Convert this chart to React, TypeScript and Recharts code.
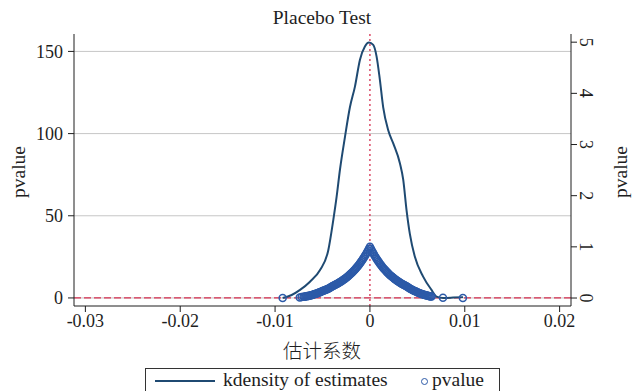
import React from 'react';
import {
  ComposedChart,
  Line,
  Scatter,
  XAxis,
  YAxis,
  ReferenceLine,
} from 'recharts';

// kernel density of the placebo estimates
const densityX = [
  -0.0092, -0.00825, -0.00737, -0.00632, -0.00526, -0.00439, -0.00386, -0.00351,
  -0.00316, -0.00263, -0.00211, -0.00158, -0.00105, -0.00053, -0.0001, 0.00035,
  0.0007, 0.00105, 0.0014, 0.00193, 0.00246, 0.00316, 0.00351, 0.00386, 0.00421,
  0.00474, 0.00561, 0.00649, 0.00702, 0.00772, 0.00877, 0.00982,
];
const densityY = [
  0, 1.8, 4.9, 9.9, 17, 29, 47.5, 61.6, 78, 98, 116, 128.6, 145, 153, 155.4, 154,
  147, 132.7, 116, 102, 94, 82, 72, 53.5, 39, 25, 13, 4.9, 0.8, 0, 0.2, 0.5,
];

// p-value of each placebo estimate: [estimate, pvalue]
const pvalueLeft: [number, number][] = [
  [-0.0092, 0], [-0.0074, 0.012], [-0.0072, 0.018], [-0.007, 0.024], [-0.0069, 0.027],
  [-0.0068, 0.03], [-0.0067, 0.033], [-0.0066, 0.037], [-0.0065, 0.041], [-0.0064, 0.045],
  [-0.0063, 0.05], [-0.0062, 0.055], [-0.0061, 0.06], [-0.006, 0.066], [-0.0059, 0.072],
  [-0.0058, 0.078], [-0.0057, 0.084], [-0.0056, 0.09], [-0.0055, 0.097], [-0.0054, 0.105],
  [-0.0053, 0.112], [-0.0052, 0.12], [-0.0051, 0.127], [-0.005, 0.135], [-0.0049, 0.142],
  [-0.0048, 0.15], [-0.0047, 0.157], [-0.0046, 0.165], [-0.0045, 0.172], [-0.0044, 0.18],
  [-0.0043, 0.19], [-0.0042, 0.2], [-0.0041, 0.214], [-0.004, 0.227], [-0.0039, 0.236],
  [-0.0038, 0.245], [-0.0037, 0.254], [-0.0036, 0.264], [-0.0035, 0.274], [-0.0034, 0.284],
  [-0.0033, 0.295], [-0.0032, 0.306], [-0.0031, 0.317], [-0.003, 0.329], [-0.0029, 0.341],
  [-0.0028, 0.355], [-0.0027, 0.368], [-0.0026, 0.382], [-0.0025, 0.396], [-0.0024, 0.411],
  [-0.0023, 0.427], [-0.0022, 0.443], [-0.0021, 0.459], [-0.002, 0.477], [-0.0019, 0.495],
  [-0.0018, 0.513], [-0.0017, 0.533], [-0.0016, 0.553], [-0.0015, 0.574], [-0.0014, 0.595],
  [-0.0013, 0.618], [-0.0012, 0.641], [-0.0011, 0.665], [-0.001, 0.691], [-0.0009, 0.717],
  [-0.0008, 0.744], [-0.0007, 0.772], [-0.0006, 0.801], [-0.0005, 0.831], [-0.0004, 0.862],
  [-0.0003, 0.895], [-0.0002, 0.929], [-0.0001, 0.964], [0, 1.0],
];
const pvalueRight: [number, number][] = [
  [0.0001, 0.963], [0.0002, 0.928], [0.0003, 0.893], [0.0004, 0.86], [0.0005, 0.828],
  [0.0006, 0.797], [0.0007, 0.768], [0.0008, 0.739], [0.0009, 0.712], [0.001, 0.685],
  [0.0011, 0.66], [0.0012, 0.635], [0.0013, 0.612], [0.0014, 0.589], [0.0015, 0.567],
  [0.0016, 0.546], [0.0017, 0.526], [0.0018, 0.506], [0.0019, 0.488], [0.002, 0.47],
  [0.0021, 0.452], [0.0022, 0.435], [0.0023, 0.419], [0.0024, 0.404], [0.0025, 0.389],
  [0.0026, 0.374], [0.0027, 0.36], [0.0028, 0.347], [0.0029, 0.334], [0.003, 0.321],
  [0.0031, 0.309], [0.0032, 0.297], [0.0033, 0.286], [0.0034, 0.275], [0.0035, 0.264],
  [0.0036, 0.253], [0.0037, 0.243], [0.0038, 0.233], [0.0039, 0.223], [0.004, 0.212],
  [0.0041, 0.2], [0.0042, 0.188], [0.0043, 0.177], [0.0044, 0.167], [0.0045, 0.157],
  [0.0046, 0.148], [0.0047, 0.139], [0.0048, 0.13], [0.0049, 0.121], [0.005, 0.113],
  [0.0051, 0.105], [0.0052, 0.097], [0.0053, 0.09], [0.0054, 0.083], [0.0055, 0.076],
  [0.0056, 0.07], [0.0057, 0.064], [0.0058, 0.058], [0.0059, 0.053], [0.006, 0.048],
  [0.0061, 0.043], [0.0062, 0.039], [0.0063, 0.035], [0.0064, 0.031], [0.0065, 0.028],
  [0.0077, 0.005], [0.0098, 0.002],
];

const xTicks = [-0.03, -0.02, -0.01, 0, 0.01, 0.02];
const leftTicks = [0, 50, 100, 150];
const rightTicks = [0, 1, 2, 3, 4, 5];

const densityData = densityX.map((x, i) => ({ x, y: densityY[i] }));
const pvalueData = [...pvalueLeft, ...pvalueRight].map(([x, p]) => ({ x, p }));

const FONT = '"Liberation Serif", serif';
const NAVY = '#1f4a72';
const BLUE = '#2c5aa8';
const RED = '#d62e4f';
const GRID = '#c6c6c6';
const INK = '#1e1e1e';

// right-hand labels are turned a quarter clockwise, like the original
const RightTick = (props: any) => {
  const { x, y, payload } = props;
  const cx = x - 2;
  return (
    <text
      x={cx}
      y={y}
      transform={`rotate(90 ${cx} ${y})`}
      textAnchor="middle"
      fill={INK}
      fontSize={18}
      fontFamily={FONT}
      dy={-3}
    >
      {payload.value}
    </text>
  );
};

const Ring = (props: any) => {
  const { cx, cy } = props;
  if (cx == null || cy == null) return null;
  return <circle cx={cx} cy={cy} r={3.5} fill="none" stroke={BLUE} strokeWidth={1.5} />;
};

export default function App() {
  return (
    <div
      style={{
        position: 'absolute',
        left: 0,
        top: 0,
        width: 638,
        height: 391,
        background: '#fff',
        fontFamily: FONT,
        color: INK,
        overflow: 'hidden',
      }}
    >
      <ComposedChart
        width={638}
        height={391}
        margin={{ top: 34, right: 0, left: 0, bottom: 0 }}
        style={{ fontFamily: FONT }}
      >
        <XAxis
          dataKey="x"
          type="number"
          domain={[-0.0312, 0.0212]}
          ticks={xTicks}
          allowDataOverflow
          tickSize={6}
          height={85}
          stroke={INK}
          tick={{ fill: INK, fontSize: 18, fontFamily: FONT }}
          tickFormatter={(v: number) => String(v)}
        />
        <YAxis
          yAxisId="left"
          type="number"
          domain={[-4.9, 160.6]}
          ticks={leftTicks}
          allowDataOverflow
          width={74}
          tickSize={6}
          tickMargin={5}
          stroke={INK}
          tick={{ fill: INK, fontSize: 18, fontFamily: FONT }}
        />
        <YAxis
          yAxisId="right"
          orientation="right"
          type="number"
          domain={[-0.156, 5.16]}
          ticks={rightTicks}
          allowDataOverflow
          width={67}
          tickSize={6}
          stroke={INK}
          tick={<RightTick />}
        />
        {leftTicks.map((t) => (
          <ReferenceLine key={t} yAxisId="left" y={t} stroke={GRID} strokeWidth={1} />
        ))}
        <ReferenceLine yAxisId="left" y={0} stroke={RED} strokeDasharray="7 3" strokeWidth={1.3} />
        <ReferenceLine yAxisId="left" x={0} stroke={RED} strokeDasharray="2 3" strokeWidth={1.3} />
        <Line
          yAxisId="left"
          data={densityData}
          dataKey="y"
          type="monotone"
          stroke={NAVY}
          strokeWidth={2}
          dot={false}
          isAnimationActive={false}
        />
        <Scatter
          yAxisId="right"
          data={pvalueData}
          dataKey="p"
          shape={<Ring />}
          isAnimationActive={false}
        />
      </ComposedChart>

      <div style={{ position: 'absolute', left: 222, width: 200, top: 6, textAlign: 'center', fontSize: 19.5, lineHeight: '24px' }}>
        Placebo Test
      </div>
      <div
        style={{
          position: 'absolute',
          left: 19,
          top: 172,
          fontSize: 19.5,
          transform: 'translate(-50%, -50%) rotate(-90deg)',
          whiteSpace: 'nowrap',
        }}
      >
        pvalue
      </div>
      <div
        style={{
          position: 'absolute',
          left: 621,
          top: 172,
          fontSize: 19.5,
          transform: 'translate(-50%, -50%) rotate(-90deg)',
          whiteSpace: 'nowrap',
        }}
      >
        pvalue
      </div>
      <div
        style={{
          position: 'absolute',
          left: 222,
          width: 200,
          top: 337,
          textAlign: 'center',
          fontSize: 19.5,
          fontFamily: '"Noto Sans CJK SC", sans-serif',
          fontWeight: 300,
          lineHeight: '26px',
        }}
      >
        估计系数
      </div>
      <div
        style={{
          position: 'absolute',
          left: 145,
          top: 368,
          width: 355,
          height: 40,
          border: '1px solid #333',
          boxSizing: 'border-box',
        }}
      >
        <div style={{ position: 'absolute', left: 9, top: 11, width: 60, height: 2, background: NAVY }} />
        <div style={{ position: 'absolute', left: 77, top: -1, fontSize: 19.5, lineHeight: '24px' }}>
          kdensity of estimates
        </div>
        <div
          style={{
            position: 'absolute',
            left: 275,
            top: 9,
            width: 5,
            height: 5,
            borderRadius: '50%',
            border: `1.3px solid ${BLUE}`,
          }}
        />
        <div style={{ position: 'absolute', left: 286, top: -1, fontSize: 19.5, lineHeight: '24px' }}>
          pvalue
        </div>
      </div>
    </div>
  );
}
